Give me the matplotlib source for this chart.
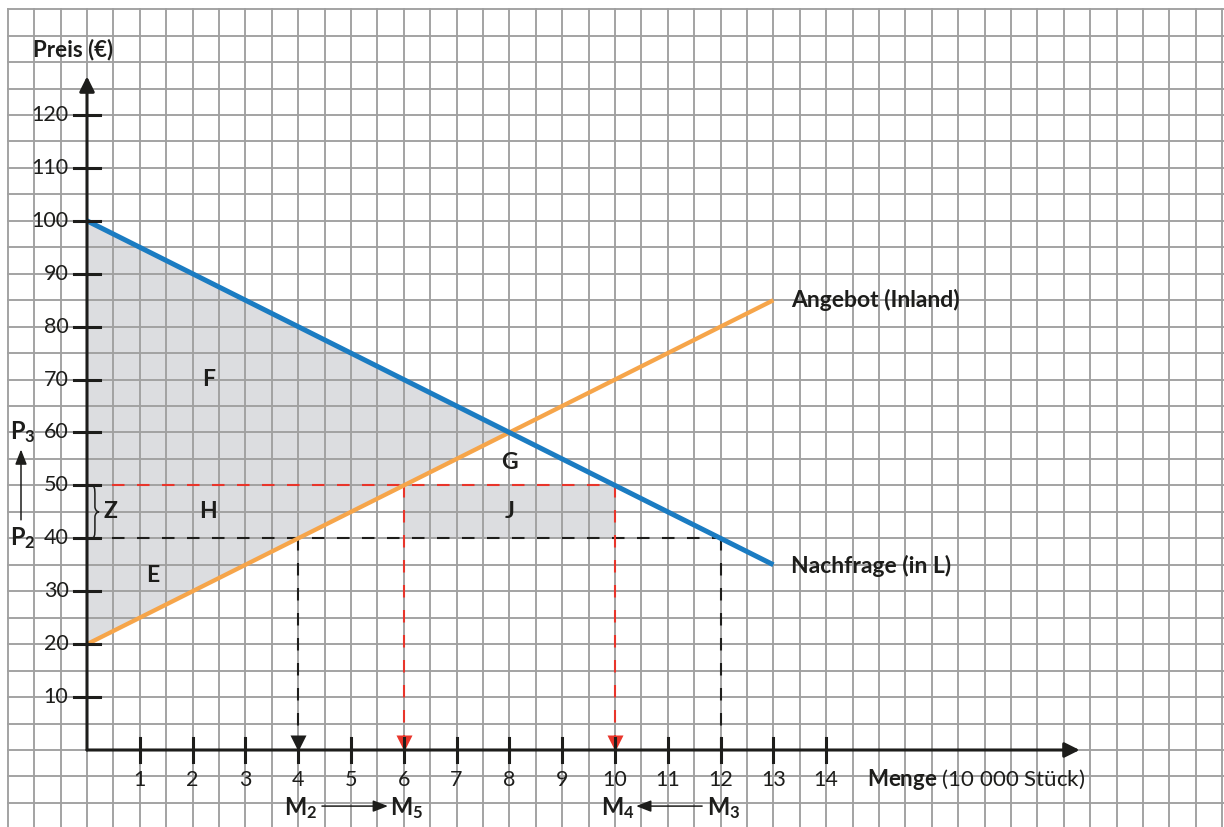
import matplotlib
matplotlib.use("Agg")
import matplotlib.pyplot as plt
import numpy as np
from matplotlib.path import Path
from matplotlib.patches import PathPatch

# data
demand_q = [0, 13]
demand_p = [100, 35]
supply_q = [0, 13]
supply_p = [20, 85]
p2, p3 = 40, 50          # Preis vorher / nachher
m2, m3 = 4, 12           # Mengen bei P2
m5, m4 = 6, 10           # Mengen bei P3
x_ticks = list(range(1, 15))
y_ticks = list(range(10, 130, 10))

plt.rcParams['font.family'] = ['Lato', 'DejaVu Sans']
plt.rcParams['mathtext.fontset'] = 'custom'
plt.rcParams['mathtext.bf'] = 'Lato:bold'
plt.rcParams['mathtext.rm'] = 'Lato'

fig = plt.figure(figsize=(12.24, 8.27), dpi=100)
ax = fig.add_axes([0, 0, 1, 1])
ax.axis('off')
# pixel scale: 1 Mengeneinheit = 52.8 px, 1 Euro = 5.2917 px
xlim = (-87 / 52.8, (1224 - 87) / 52.8)
ylim = (-77 / 5.2917, 750 / 5.2917)
ax.set_xlim(xlim)
ax.set_ylim(ylim)

# graph paper
grid_c = '#a0a0a0'
for gx in np.arange(-1.5, xlim[1], 0.5):
    ax.plot([gx, gx], [ylim[0], 140], color=grid_c, lw=1.35, zorder=2)
for gy in np.arange(140, ylim[0], -5):
    ax.plot([-1.5, xlim[1]], [gy, gy], color=grid_c, lw=1.35, zorder=2)

# lines as functions
def demand(q):
    return np.interp(q, demand_q, demand_p)

sd = (demand_p[1] - demand_p[0]) / (demand_q[1] - demand_q[0])
ss = (supply_p[1] - supply_p[0]) / (supply_q[1] - supply_q[0])
q_eq = (supply_p[0] - demand_p[0]) / (sd - ss)
p_eq = demand(q_eq)

# shaded areas
ax.fill([0, q_eq, 0], [demand_p[0], p_eq, supply_p[0]], color='#dcdde0', lw=0, zorder=1)
ax.fill([m5, m4, m4, m5], [p2, p2, p3, p3], color='#dcdde0', lw=0, zorder=1)

# dashed helper lines
red = '#e8352b'
dark = '#1d1d1b'
dash = (0, (6, 6))
ax.plot([0, m4], [p3, p3], color=red, lw=1.5, ls=dash, zorder=3)
ax.plot([0, m3], [p2, p2], color=dark, lw=1.5, ls=dash, zorder=3)
for q in [m5, m4]:
    ax.plot([q, q], [p3, 2], color=red, lw=1.5, ls=dash, zorder=3)
    ax.plot(q, 1.3, marker='v', color=red, ms=11, mec='none', zorder=5)
ax.plot([m2, m2], [p2, 2], color=dark, lw=1.5, ls=dash, zorder=3)
ax.plot(m2, 1.3, marker='v', color=dark, ms=11, mec='none', zorder=5)
ax.plot([m3, m3], [p2, 0], color=dark, lw=1.5, ls=dash, zorder=3)

# curves
ax.plot(supply_q, supply_p, color='#f6a54a', lw=3.1, solid_capstyle='butt', zorder=4)
ax.plot(demand_q, demand_p, color='#1b7cc2', lw=3.6, solid_capstyle='butt', zorder=4)

# axes with arrows
ax.annotate('', xy=(0, 127.3), xytext=(0, 0),
            arrowprops=dict(arrowstyle='-|>,head_length=0.9,head_width=0.45', lw=2.2,
                            color=dark, shrinkA=0, shrinkB=0), zorder=6)
ax.annotate('', xy=(18.8, 0), xytext=(0, 0),
            arrowprops=dict(arrowstyle='-|>,head_length=0.9,head_width=0.45', lw=2.2,
                            color=dark, shrinkA=0, shrinkB=0), zorder=6)
for t in y_ticks:
    ax.plot([-0.25, 0.25], [t, t], color=dark, lw=2.2, zorder=6)
    ax.text(-0.35, t, str(t), ha='right', va='center', fontsize=15.5, color=dark)
for t in x_ticks:
    ax.plot([t, t], [-2.3, 2.3], color=dark, lw=2.2, zorder=6)
    ax.text(t, -5.6, str(t), ha='center', va='center', fontsize=15.5, color=dark)

ax.text(-1.02, 132.3, 'Preis (€)', ha='left', va='center', fontsize=16,
        fontweight='bold', color=dark)
ax.text(14.77, -5.6, r'$\mathbf{Menge}$ (10 000 Stück)', ha='left', va='center',
        fontsize=16, color=dark)
ax.text(13.33, 85, 'Angebot (Inland)', ha='left', va='center', fontsize=16.5,
        fontweight='bold', color=dark)
ax.text(13.33, 34.7, 'Nachfrage (in L)', ha='left', va='center', fontsize=16.5,
        fontweight='bold', color=dark)

# area letters
for lab, x, y in [('F', 2.3, 70), ('G', 8.0, 54.3), ('H', 2.3, 45), ('J', 8.0, 45),
                  ('E', 1.25, 33), ('Z', 0.45, 45)]:
    ax.text(x, y, lab, ha='center', va='center', fontsize=16.5, fontweight='bold', color=dark)

# curly brace between P2 and P3
bx0, bx1, bx2 = 0.06, 0.15, 0.23
verts = [(bx0, p3), (bx1, p3), (bx1, p3 - 0.5), (bx1, p3 - 2),
         (bx1, 46), (bx1, 45.4), (bx2 - 0.04, 45), (bx2, 45),
         (bx2 - 0.04, 45), (bx1, 44.6), (bx1, 44),
         (bx1, p2 + 2), (bx1, p2 + 0.5), (bx1, p2), (bx0, p2)]
codes = [Path.MOVETO, Path.CURVE4, Path.CURVE4, Path.CURVE4,
         Path.LINETO, Path.CURVE4, Path.CURVE4, Path.CURVE4,
         Path.CURVE4, Path.CURVE4, Path.CURVE4,
         Path.LINETO, Path.CURVE4, Path.CURVE4, Path.CURVE4]
ax.add_patch(PathPatch(Path(verts, codes), fill=False, ec=dark, lw=1.1, zorder=6))

# P2 -> P3
ax.text(-1.22, p3 + 10, r'$\mathbf{P_3}$', ha='center', va='center', fontsize=17, color=dark)
ax.text(-1.22, p2, r'$\mathbf{P_2}$', ha='center', va='center', fontsize=17, color=dark)
ax.annotate('', xy=(-1.25, 56.8), xytext=(-1.25, 43.5),
            arrowprops=dict(arrowstyle='-|>,head_length=0.9,head_width=0.35', lw=1.1,
                            color=dark, shrinkA=0, shrinkB=0))

# M labels
for lab, q in [('M_2', m2), ('M_5', m5), ('M_4', m4), ('M_3', m3)]:
    ax.text(q + 0.05, -11, r'$\mathbf{' + lab + '}$', ha='center', va='center',
            fontsize=17, color=dark)
ax.annotate('', xy=(5.7, -10.6), xytext=(4.45, -10.6),
            arrowprops=dict(arrowstyle='-|>,head_length=0.9,head_width=0.35', lw=1.1,
                            color=dark, shrinkA=0, shrinkB=0))
ax.annotate('', xy=(10.4, -10.6), xytext=(11.65, -10.6),
            arrowprops=dict(arrowstyle='-|>,head_length=0.9,head_width=0.35', lw=1.1,
                            color=dark, shrinkA=0, shrinkB=0))

fig.savefig('out.png', dpi=100)
